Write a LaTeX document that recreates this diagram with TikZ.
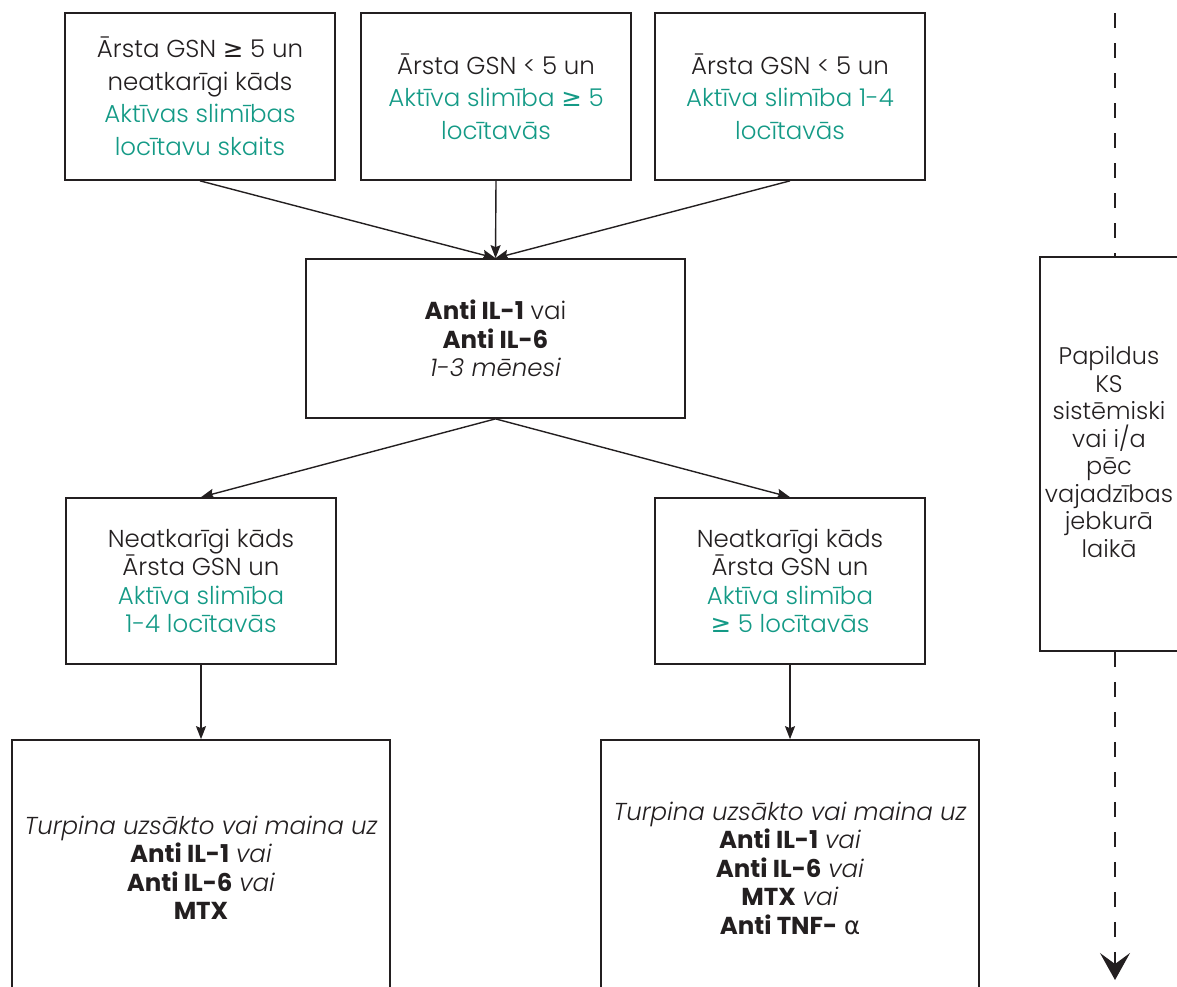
\documentclass[tikz,border=0pt]{standalone}
\usepackage{fontspec}
\setmainfont{Poppins Light}[BoldFont=Poppins Bold, ItalicFont=Poppins Light Italic]
\newfontfamily\symfont{DejaVu Sans}
\usetikzlibrary{arrows.meta}

\definecolor{ink}{RGB}{35,31,32}
\definecolor{jointgreen}{RGB}{20,154,134}

\newcommand{\gesym}{{\symfont ≥}}
\newcommand{\alphasym}{{\symfont α}}
\newcommand{\hl}[1]{\textcolor{jointgreen}{#1}}

\tikzset{
  box/.style={draw=ink, line width=1.7pt, align=center, inner sep=0pt,
    text=ink, font=\fontsize{24.5}{32.5}\selectfont},
  tallbox/.style={box, font=\fontsize{24.5}{28.5}\selectfont},
  sidetext/.style={align=center, inner sep=0pt, text=ink,
    font=\fontsize{24}{27.5}\selectfont},
  arr/.style={draw=ink, line width=1.4pt,
    -{Stealth[length=13pt,width=10pt,inset=2pt]}},
  dashline/.style={draw=ink, line width=1.4pt, dash pattern=on 15pt off 15pt}
}

\begin{document}
\begin{tikzpicture}[x=1pt,y=-1pt]
\useasboundingbox (0,0) rectangle (1177,986);
\clip (0,0) rectangle (1177,986);

% first row: entry criteria
\node[box, minimum width=270pt, minimum height=167pt] (b1) at (200,96.5)
  {Ārsta GSN \gesym{} 5 un\\ neatkarīgi kāds\\ \hl{Aktīvas slimības}\\ \hl{locītavu skaits}};
\node[box, minimum width=270pt, minimum height=167pt] (b2) at (496,96.5)
  {Ārsta GSN < 5 un\\ \hl{Aktīva slimība \gesym{} 5}\\ \hl{locītavās}};
\node[box, minimum width=270pt, minimum height=167pt] (b3) at (790,96.5)
  {Ārsta GSN < 5 un\\ \hl{Aktīva slimība 1-4}\\ \hl{locītavās}};

% initial treatment
\node[tallbox, minimum width=379pt, minimum height=159pt] (mid) at (495.5,338.5)
  {\textbf{Anti IL-1} vai\\ \textbf{Anti IL-6}\\ \textit{1-3 mēnesi}};

% reassessment
\node[tallbox, minimum width=270pt, minimum height=166pt] (n1) at (201,581)
  {Neatkarīgi kāds\\ Ārsta GSN un\\ \hl{Aktīva slimība}\\ \hl{1-4 locītavās}};
\node[tallbox, minimum width=270pt, minimum height=166pt] (n2) at (790,581)
  {Neatkarīgi kāds\\ Ārsta GSN un\\ \hl{Aktīva slimība}\\ \hl{\gesym{} 5 locītavās}};

% continuation
\node[tallbox, minimum width=378pt, minimum height=256pt] (t1) at (201,868)
  {\textit{Turpina uzsākto vai maina uz}\\ \textbf{Anti IL-1} \textit{vai}\\
   \textbf{Anti IL-6} \textit{vai}\\ \textbf{MTX}};
\node[tallbox, minimum width=378pt, minimum height=256pt] (t2) at (790,868)
  {\textit{Turpina uzsākto vai maina uz}\\ \textbf{Anti IL-1} \textit{vai}\\
   \textbf{Anti IL-6} \textit{vai}\\ \textbf{MTX} \textit{vai}\\
   \textbf{Anti TNF-} \alphasym};

% corticosteroids at any time (box runs past the right edge)
\node[box, minimum width=150pt, minimum height=394pt] (side) at (1115,454) {};
\node[sidetext] (sidelbl) at (1109,452)
  {Papildus\\ KS\\ sistēmiski\\ vai i/a\\ pēc\\ vajadzības\\ jebkurā\\ laikā};

\coordinate (dtop) at (1115,13);
\coordinate (dend) at (1115,980);

% connectors
\draw[arr] (b1.south) -- (mid.north);
\draw[arr] (b2.south) -- (mid.north);
\draw[arr] (b3.south) -- (mid.north);
\draw[arr] (mid.south) -- (n1.north);
\draw[arr] (mid.south) -- (n2.north);
\draw[arr] (n1.south) -- (t1.north);
\draw[arr] (n2.south) -- (t2.north);

\draw[dashline] (dtop) -- (side.north);
\draw[dashline, -{Stealth[length=27pt,width=30pt,inset=11pt]}] (side.south) -- (dend);
\end{tikzpicture}
\end{document}
